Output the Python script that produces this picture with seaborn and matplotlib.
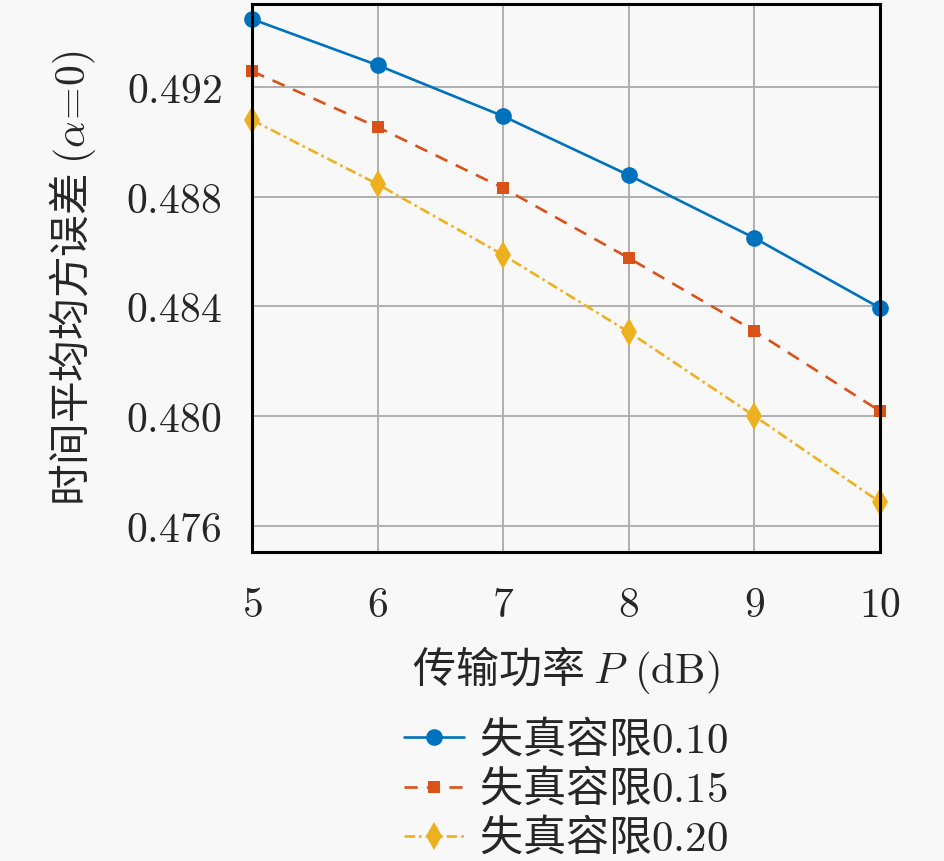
import pandas as pd
import matplotlib
matplotlib.use('Agg')
import matplotlib.pyplot as plt
import seaborn as sns

# data
power_db = [5, 6, 7, 8, 9, 10]
mse_010 = [0.49448, 0.49280, 0.49094, 0.48879, 0.48650, 0.48395]
mse_015 = [0.49258, 0.49054, 0.48832, 0.48577, 0.48311, 0.48019]
mse_020 = [0.49080, 0.48846, 0.48588, 0.48307, 0.48001, 0.47687]
series_labels = ['失真容限$0.10$', '失真容限$0.15$', '失真容限$0.20$']
y_ticks = [0.476, 0.480, 0.484, 0.488, 0.492]

sns.set_style('white')
plt.rcParams['font.family'] = ['Noto Sans CJK SC', 'DejaVu Sans']
plt.rcParams['mathtext.fontset'] = 'cm'
plt.rcParams['axes.unicode_minus'] = False

bg = '#f8f8f8'
fig = plt.figure(figsize=(9.45, 8.61), dpi=100, facecolor=bg)
ax = fig.add_axes([0.2667, 0.359, 0.6643, 0.636])
ax.set_facecolor(bg)

df = pd.DataFrame({'P': power_db * 3,
                   'mse': mse_010 + mse_015 + mse_020,
                   'label': sum([[l] * len(power_db) for l in series_labels], [])})

styles = [
    dict(color='#0072BD', marker='o', ls='-', ms=12),
    dict(color='#D95319', marker='s', ls=(0, (5, 3.5)), ms=9),
    dict(color='#EDB120', marker='d', ls=(0, (4, 1.5, 1, 1.5)), ms=14),
]
for lab, st in zip(series_labels, styles):
    sub = df[df['label'] == lab]
    sns.lineplot(data=sub, x='P', y='mse', ax=ax, label=lab, lw=1.9,
                 markeredgewidth=0, clip_on=False, **st)

ax.set_xlim(5, 10)
ax.set_ylim(0.47505, 0.49502)
ax.set_xticks(power_db)
ax.set_xticklabels(['$%d$' % v for v in power_db])
ax.set_yticks(y_ticks)
ax.set_yticklabels(['$%.3f$' % v for v in y_ticks])
ax.grid(True, color='#b0b0b0', lw=1.4)
for s in ax.spines.values():
    s.set_color('black')
    s.set_linewidth(2.2)
ax.tick_params(axis='both', direction='in', length=5, width=2, labelsize=30,
               color='black')
ax.tick_params(axis='x', pad=24)
ax.tick_params(axis='y', pad=22)

ax.set_xlabel('传输功率 $P\\ (\\mathrm{dB})$', fontsize=31, labelpad=13)
ax.set_ylabel('时间平均均方误差 $(\\alpha\\!=\\!0)$', fontsize=30, labelpad=20)

handles, labels = ax.get_legend_handles_labels()
ax.legend(handles, labels, loc='upper center', bbox_to_anchor=(0.5, -0.265),
          frameon=False, fontsize=31, labelspacing=0.12, handlelength=1.4,
          handletextpad=0.35, borderpad=0)

fig.savefig('out.png', dpi=100, facecolor=bg)
